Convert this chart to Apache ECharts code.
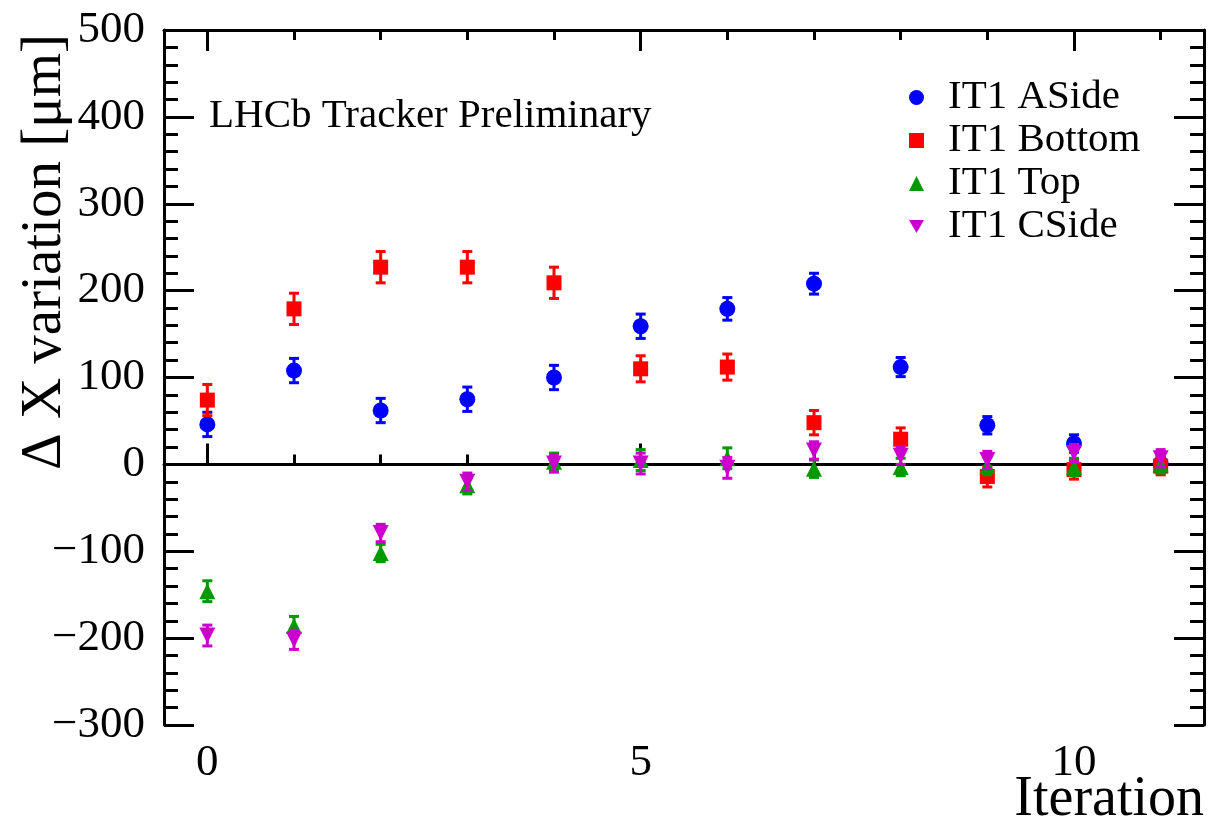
<!DOCTYPE html>
<html>
<head>
<meta charset="utf-8">
<script src="https://cdn.jsdelivr.net/npm/echarts@6/dist/echarts.min.js"></script>
<style>
html,body{margin:0;padding:0;background:#fff;}
#chart{width:1209px;height:826px;}
</style>
</head>
<body>
<div id="chart"></div>
<script>
// ---- data ----
const iterations = ['0','1','2','3','4','5','6','7','8','9','10','11'];
const seriesNames = ['IT1 ASide', 'IT1 Bottom', 'IT1 Top', 'IT1 CSide'];
const asideVals  = [46, 108, 62, 75, 100, 159, 179, 208, 112, 45, 24, 1];
const asideErr   = [14, 14, 14, 14, 14, 14, 13, 12, 11, 10, 10, 10];
const bottomVals = [74, 179, 227, 227, 209, 110, 112, 48, 29, -14, -6, -2];
const bottomErr  = [18, 18, 18, 18, 18, 15, 15, 14, 13, 12, 11, 10];
const topVals    = [-146, -186, -102, -24, 3, 5, 7, -5, -3, -2, -3, 0];
const topErr     = [12, 11, 10, 10, 10, 12, 12, 10, 10, 10, 10, 10];
const csideVals  = [-197, -202, -79, -20, 1, 1, -4, 16, 10, 5, 13, 7];
const csideErr   = [12, 11, 10, 10, 10, 12, 12, 10, 10, 10, 10, 10];
const yTicks = [-300, -200, -100, 0, 100, 200, 300, 400, 500];
const majorX = ['0', '5', '10'];
const xTitle = 'Iteration';
const yTitle = '\u0394 X variation [\u03bcm]';
const noteText = 'LHCb Tracker Preliminary';

const FONT = '"Liberation Serif", "Times New Roman", serif';
const colors = ['#0000ff', '#ff0000', '#009900', '#cc00cc'];
const symbols = ['circle', 'rect', 'triangle', 'triangle'];
const legendIcons = ['circle', 'rect', 'triangle', 'path://M0,0L20,0L10,17.3Z'];
const rotates = [0, 0, 0, 180];
const sizes = [16, 15, 16, 16];
const valsList = [asideVals, bottomVals, topVals, csideVals];
const errList = [asideErr, bottomErr, topErr, csideErr];

function errRender(color) {
  return function (params, api) {
    const x = api.value(0), y = api.value(1), e = api.value(2);
    const t = api.coord([x, y + e]);
    const b = api.coord([x, y - e]);
    const cw = 5;
    const st = {stroke: color, lineWidth: 3};
    return {
      type: 'group',
      children: [
        {type: 'line', shape: {x1: t[0], y1: t[1], x2: b[0], y2: b[1]}, style: st},
        {type: 'line', shape: {x1: t[0] - cw, y1: t[1], x2: t[0] + cw, y2: t[1]}, style: st},
        {type: 'line', shape: {x1: b[0] - cw, y1: b[1], x2: b[0] + cw, y2: b[1]}, style: st}
      ]
    };
  };
}

const series = [];
seriesNames.forEach(function (name, k) {
  series.push({
    name: name + ' error',
    type: 'custom',
    xAxisIndex: 0, yAxisIndex: 0,
    renderItem: errRender(colors[k]),
    data: iterations.map(function (c, i) { return [i, valsList[k][i], errList[k][i]]; }),
    z: 2 + k * 2,
    silent: true
  });
  const s = {
    name: name,
    type: 'scatter',
    xAxisIndex: 0, yAxisIndex: 0,
    symbol: symbols[k],
    symbolRotate: rotates[k],
    symbolSize: sizes[k],
    itemStyle: {color: colors[k], opacity: 1},
    data: iterations.map(function (c, i) { return [i, valsList[k][i]]; }),
    z: 3 + k * 2
  };
  if (k === 0) {
    s.markLine = {
      silent: true,
      symbol: 'none',
      z: 1,
      label: {show: false},
      lineStyle: {color: '#000', width: 3, type: 'solid'},
      data: [{yAxis: 0}]
    };
  }
  series.push(s);
});

function xAxisDef(pos, major, withLabels) {
  return {
    type: 'category',
    position: pos,
    data: iterations,
    boundaryGap: true,
    axisLine: {show: major, lineStyle: {color: '#000', width: 3}},
    axisTick: {
      show: true, inside: true, alignWithLabel: true,
      length: major ? 21 : 10,
      interval: major ? function (i, v) { return majorX.indexOf(v) >= 0; } : 0,
      lineStyle: {color: '#000', width: 3}
    },
    axisLabel: {
      show: withLabels,
      interval: function (i, v) { return majorX.indexOf(v) >= 0; },
      margin: 16,
      color: '#000',
      fontFamily: FONT,
      fontSize: 45
    },
    splitLine: {show: false}
  };
}

const xAxes = [
  xAxisDef('bottom', true, true),
  xAxisDef('bottom', false, false),
  xAxisDef('top', true, false),
  xAxisDef('top', false, false)
];

function yAxisDef(pos, withLabels) {
  return {
    type: 'value',
    position: pos,
    min: yTicks[0],
    max: yTicks[yTicks.length - 1],
    interval: 100,
    axisLine: {show: true, onZero: false, lineStyle: {color: '#000', width: 3}},
    axisTick: {show: true, inside: true, length: 30, lineStyle: {color: '#000', width: 3}},
    minorTick: {show: true, splitNumber: 5, length: 14, lineStyle: {color: '#000', width: 3}},
    axisLabel: {
      show: withLabels,
      margin: 19,
      color: '#000',
      fontFamily: FONT,
      fontSize: 45,
      formatter: function (v) { return v < 0 ? '\u2212' + (-v) : String(v); }
    },
    splitLine: {show: false},
    minorSplitLine: {show: false}
  };
}

const yAxes = [yAxisDef('left', true), yAxisDef('right', false)];

const chart = echarts.init(document.getElementById('chart'), null, {renderer: 'canvas'});
chart.setOption({
  animation: false,
  backgroundColor: '#fff',
  title: {
    text: noteText,
    left: 209, top: 96, padding: 0,
    textStyle: {fontFamily: FONT, fontSize: 41, fontWeight: 'normal', color: '#000'}
  },
  legend: {
    orient: 'vertical',
    left: 909, top: 77,
    padding: 0,
    itemWidth: 15, itemHeight: 15, itemGap: 2,
    data: seriesNames.map(function (n, k) { return {name: n, icon: legendIcons[k]}; }),
    textStyle: {fontFamily: FONT, fontSize: 41, color: '#000', lineHeight: 41, padding: [0, 0, 0, 19]}
  },
  grid: {left: 164, right: 5, top: 30, bottom: 101, containLabel: false, outerBoundsMode: 'none'},
  xAxis: xAxes,
  yAxis: yAxes,
  graphic: [
    {
      type: 'text', x: 1204, y: 800, silent: true,
      style: {text: xTitle, font: '56px ' + FONT, fill: '#000', textAlign: 'right', textVerticalAlign: 'middle'}
    },
    {
      type: 'text', x: 45, y: 252, rotation: Math.PI / 2, silent: true,
      style: {text: yTitle, font: '57px ' + FONT, fill: '#000', textAlign: 'center', textVerticalAlign: 'middle'}
    }
  ],
  series: series
});
</script>
</body>
</html>
